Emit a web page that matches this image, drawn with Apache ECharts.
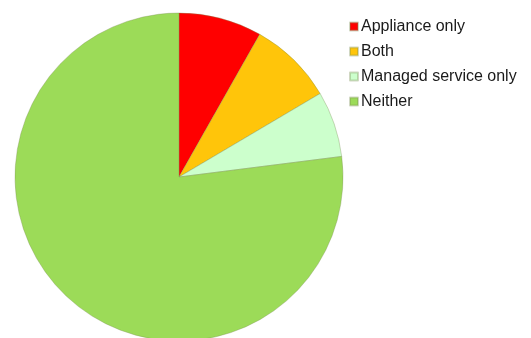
<!DOCTYPE html>
<html><head><meta charset="utf-8">
<script src="https://cdn.jsdelivr.net/npm/echarts@6/dist/echarts.min.js"></script>
<style>html,body{margin:0;padding:0;background:#fff}#c{width:531px;height:338px}</style>
</head><body><div id="c"></div>
<script>
const categories = ["Appliance only", "Both", "Managed service only", "Neither"];
const values = [8.2, 8.3, 6.5, 77.0];
const colors = ["#FF0000", "#FFC50A", "#CCFFCC", "#9CDB58"];

const chart = echarts.init(document.getElementById('c'), null, {renderer: 'canvas'});
chart.setOption({
  animation: false,
  color: colors,
  legend: {
    orient: 'vertical',
    left: 344,
    top: 13,
    itemWidth: 8,
    itemHeight: 8,
    itemGap: 8,
    icon: 'rect',
    textStyle: {fontFamily: 'Liberation Sans, Arial, sans-serif', fontSize: 16, lineHeight: 17, color: '#1a1a1a', padding: [0,0,0,-2]},
    data: categories
  },
  series: [{
    type: 'pie',
    center: [179, 177],
    radius: 164,
    startAngle: 90,
    clockwise: true,
    label: {show: false},
    labelLine: {show: false},
    emphasis: {disabled: true},
    itemStyle: {borderColor: 'rgba(120,140,80,0.35)', borderWidth: 1},
    data: categories.map((n, i) => ({name: n, value: values[i]}))
  }]
});
</script></body></html>
